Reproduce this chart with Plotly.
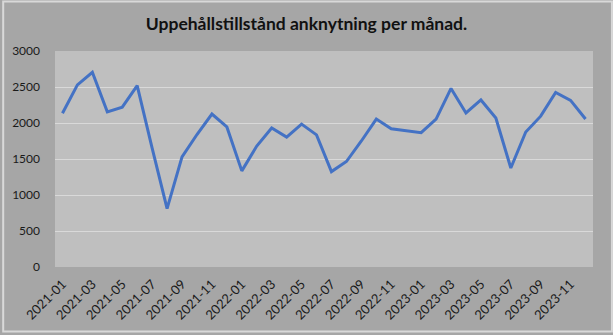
import plotly.graph_objects as go

# Monthly counts, Jan 2021 – Dec 2023
months = [f"{y}-{m:02d}" for y in (2021, 2022, 2023) for m in range(1, 13)]
values = [2135, 2530, 2705, 2155, 2220, 2520, 1650, 810, 1530, 1840, 2125, 1945,
          1335, 1680, 1930, 1805, 1985, 1835, 1325, 1465, 1750, 2055, 1920, 1890,
          1865, 2055, 2480, 2140, 2320, 2070, 1375, 1875, 2095, 2425, 2315, 2055]
tick_labels = months[::2]
y_ticks = [0, 500, 1000, 1500, 2000, 2500, 3000]

W, H = 613, 335
ML, MR, MT, MB = 53, 20, 51, 66
PW, PH = W - ML - MR, H - MT - MB

fig = go.Figure(go.Scatter(
    x=months, y=values, mode="lines",
    line=dict(color="#4472C4", width=3),
    hoverinfo="x+y",
))

font_family = "Lato, 'Open Sans', sans-serif"

fig.update_layout(
    width=W, height=H,
    margin=dict(l=ML, r=MR, t=MT, b=MB),
    paper_bgcolor="#a6a6a6",
    plot_bgcolor="#bfbfbf",
    showlegend=False,
    title=dict(
        text="<b>Uppehållstillstånd anknytning per månad.</b>",
        x=0.5, xanchor="center", xref="container",
        y=1 - 24 / H, yanchor="middle", yref="container",
        font=dict(family=font_family, size=17.5, color="#111111"),
    ),
    xaxis=dict(
        type="category",
        categoryorder="array", categoryarray=months,
        range=[-0.5, len(months) - 0.5],
        tickmode="array", tickvals=tick_labels, ticktext=tick_labels,
        tickangle=-45,
        showgrid=False, zeroline=False, showline=False, ticks="",
        ticklabelstandoff=6,
        tickfont=dict(family=font_family, size=13, color="#1a1a1a"),
    ),
    yaxis=dict(
        range=[0, 3000],
        tickmode="array", tickvals=y_ticks,
        showgrid=True, gridcolor="#d9d9d9", gridwidth=1,
        zeroline=False, showline=False, ticks="",
        ticklabelstandoff=14,
        tickfont=dict(family=font_family, size=12, color="#1a1a1a"),
    ),
    shapes=[dict(
        type="rect", xref="paper", yref="paper",
        x0=-(ML - 1) / PW, x1=1 + (MR - 1) / PW,
        y0=-(MB - 1) / PH, y1=1 + (MT - 1) / PH,
        line=dict(color="#d9d9d9", width=2),
        fillcolor="rgba(0,0,0,0)", layer="above",
    )],
)

fig.write_html("out.html")
